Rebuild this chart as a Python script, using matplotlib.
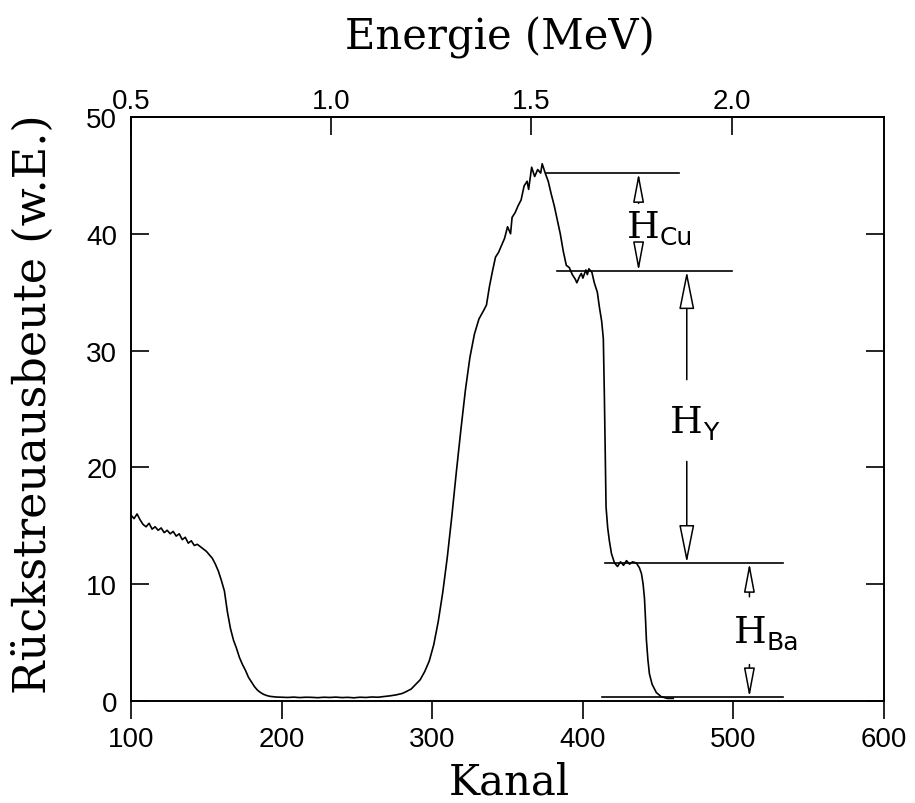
import matplotlib
matplotlib.use('Agg')
import matplotlib.pyplot as plt

# RBS-Spektrum: Kanal gegen Rueckstreuausbeute
kanal = [100, 102, 104, 106, 108, 110, 112, 114, 116, 118, 120, 122, 124, 126,
         128, 130, 132, 134, 136, 138, 140, 142, 144, 146, 148, 150, 152, 154,
         156, 158, 160, 162, 164, 166, 168, 170, 172, 174, 176, 178, 180, 182,
         184, 186, 188, 190, 192, 196, 200, 204, 208, 212, 216, 220, 224, 228,
         232, 236, 240, 244, 248, 252, 256, 260, 264, 268, 272, 276, 280, 283,
         286, 289, 292, 295, 298, 301, 304, 307, 310, 313, 316, 319, 322, 325,
         328, 331, 334, 336, 338, 340, 342, 344, 346, 348, 350, 352, 353, 355,
         357, 359, 361, 363, 364, 366, 368, 370, 372, 373, 375, 377, 379, 381,
         383, 385, 387, 389, 391, 393, 395, 396, 398, 399, 400, 402, 403, 404,
         406, 407.6, 409.6, 411, 412.5, 413.6, 414.3, 414.8, 415.4, 416.5, 417.6,
         419, 421, 423, 425, 427, 429, 431, 433, 435.5, 437.5, 438.9, 440, 440.9,
         441.6, 442.2, 443.2, 444.2, 446, 448.8, 452, 456, 460]
ausbeute = [15.9, 15.6, 16.0, 15.5, 15.1, 14.9, 15.2, 14.7, 14.9, 14.6, 14.8,
            14.4, 14.6, 14.3, 14.5, 14.1, 14.3, 13.8, 14.0, 13.5, 13.7, 13.3,
            13.4, 13.2, 13.0, 12.8, 12.5, 12.2, 11.7, 11.1, 10.3, 9.4, 7.6, 6.2,
            5.2, 4.5, 3.7, 3.1, 2.6, 2.0, 1.6, 1.2, 0.9, 0.7, 0.55, 0.45, 0.38,
            0.32, 0.30, 0.28, 0.31, 0.27, 0.30, 0.29, 0.26, 0.30, 0.28, 0.31,
            0.27, 0.29, 0.25, 0.30, 0.28, 0.32, 0.30, 0.36, 0.42, 0.50, 0.62,
            0.8, 1.0, 1.4, 1.8, 2.5, 3.4, 4.8, 6.8, 9.3, 12.3, 15.8, 19.6, 23.2,
            26.6, 29.4, 31.4, 32.7, 33.4, 33.9, 35.5, 36.8, 38.0, 38.4, 39.0,
            39.6, 40.6, 40.0, 41.4, 41.8, 42.4, 42.9, 44.1, 44.5, 43.8, 45.7,
            44.9, 45.5, 45.2, 46.0, 45.2, 44.5, 43.4, 42.4, 41.2, 40.0, 38.5,
            37.3, 37.1, 36.5, 36.1, 35.8, 36.4, 36.6, 36.2, 36.9, 36.5, 37.0,
            36.7, 35.8, 35.0, 33.7, 32.5, 31.0, 26.0, 21.5, 16.6, 14.8, 13.7,
            12.6, 11.8, 11.5, 11.9, 11.6, 12.0, 11.7, 11.9, 11.8, 11.4, 10.9,
            10.0, 8.8, 7.0, 5.2, 3.5, 2.3, 1.4, 0.7, 0.35, 0.2, 0.2]

# Stufenhoehen und Bereiche der Hilfslinien
stufe_y = [45.2, 36.8, 11.8, 0.3]
stufe_von = [375.7, 383, 415, 413]
stufe_bis = [464, 499, 532.6, 532.6]

energie_ticks = [0.5, 1.0, 1.5, 2.0]


def kanal_zu_energie(k):
    return 0.5 + (k - 100) * 0.003762


def energie_zu_kanal(e):
    return 100 + (e - 0.5) / 0.003762


fig = plt.figure(figsize=(9.15, 8.04), dpi=100)
ax = fig.add_axes([0.1432, 0.1272, 0.8230, 0.7260])

ax.plot(kanal, ausbeute, color='black', lw=1.2)
for y, a, b in zip(stufe_y, stufe_von, stufe_bis):
    ax.plot([a, b], [y, y], color='black', lw=1.2)

ax.set_xlim(100, 600)
ax.set_ylim(0, 50)
ax.set_xticks([100, 200, 300, 400, 500, 600])
ax.set_yticks([0, 10, 20, 30, 40, 50])

tickfont = 'Liberation Sans'
for lab in ax.get_xticklabels() + ax.get_yticklabels():
    lab.set_family(tickfont)
    lab.set_fontsize(20)

ax.tick_params(axis='x', which='both', direction='out', length=13, width=1.2,
               pad=5, top=False)
ax.tick_params(axis='y', which='both', direction='in', length=13, width=1.2,
               pad=10, right=True)
for sp in ax.spines.values():
    sp.set_linewidth(1.4)

sec = ax.secondary_xaxis('top', functions=(kanal_zu_energie, energie_zu_kanal))
sec.set_xticks(energie_ticks)
sec.set_xticklabels(['%.1f' % e for e in energie_ticks], family=tickfont,
                    fontsize=20)
sec.tick_params(direction='in', length=13, width=1.2, pad=2.5)
sec.spines['top'].set_linewidth(1.4)


def pfeil(x, spitze, ende, gross=False):
    if gross:
        stil = '-|>,head_length=1.2,head_width=0.24'
    else:
        stil = '-|>,head_length=0.9,head_width=0.17'
    ax.annotate('', xy=(x, spitze), xytext=(x, ende),
                arrowprops=dict(arrowstyle=stil, fc='white', ec='black',
                                lw=1.1, shrinkA=0, shrinkB=0,
                                mutation_scale=20))


def hoehe(x, y, sub):
    ax.text(x, y, 'H', family='DejaVu Serif', fontsize=27,
            ha='left', va='baseline')
    ax.annotate(sub, xy=(x, y), xytext=(24, -5), textcoords='offset points',
                family='DejaVu Sans', fontsize=18, ha='left',
                va='baseline')


# H_Cu
pfeil(437, stufe_y[0], 42.6)
pfeil(437, stufe_y[1], 39.1)
hoehe(429, 39.7, 'Cu')
# H_Y
pfeil(469, stufe_y[1], 27.5, gross=True)
pfeil(469, stufe_y[2], 20.5, gross=True)
hoehe(457.5, 23.0, 'Y')
# H_Ba
pfeil(510.6, stufe_y[2], 8.9)
pfeil(510.6, stufe_y[3], 3.1)
hoehe(500, 5.0, 'Ba')

labfont = 'DejaVu Serif'
fig.text(0.557, 0.012, 'Kanal', family=labfont, fontsize=30,
         ha='center', va='baseline')
fig.text(0.5465, 0.939, 'Energie (MeV)', family=labfont, fontsize=30,
         ha='center', va='baseline')
fig.text(0.036, 0.497, 'Rückstreuausbeute (w.E.)', family=labfont,
         fontsize=32, rotation=90, ha='center', va='center')

fig.savefig('out.png', dpi=100)
